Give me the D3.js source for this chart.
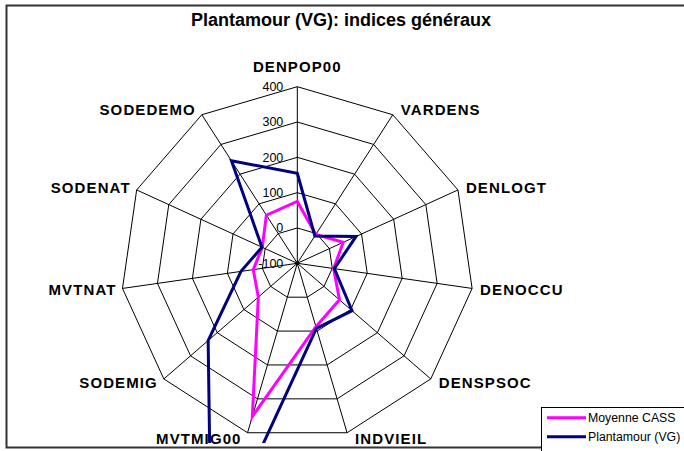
<!DOCTYPE html>
<html>
<head>
<meta charset="utf-8">
<script src="https://cdn.jsdelivr.net/npm/d3@7"></script>
<style>
  html, body { margin: 0; padding: 0; background: #fff; }
  svg { display: block; font-family: "Liberation Sans", Arial, sans-serif; }
</style>
</head>
<body>
<svg id="chart" width="684" height="451"></svg>
<script>
// Axes of the radar, clockwise from the top
const categories = ["DENPOP00", "VARDENS", "DENLOGT", "DENOCCU", "DENSPSOC", "INDVIEIL",
                    "MVTMIG00", "SODEMIG", "MVTNAT", "SODENAT", "SODEDEMO"];
const moyenneCass = [75, -3, 43, 4, 58, 87, 352, 46, 26, 9, 62];
const plantamour  = [155, -8, 83, 6, 105, 92, 765, 234, 61, 10, 245];
const tickValues  = [-100, 0, 100, 200, 300, 400];
const seriesNames = ["Moyenne CASS", "Plantamour (VG)"];
const seriesColors = ["#FF00FF", "#000080"];

const W = 684, H = 451;
const cx = 297.3, cy = 263.3;
const svg = d3.select("#chart");

const r = d3.scaleLinear().domain([-100, 400]).range([0, 176.6]);
const n = categories.length;
const angle = i => i * 2 * Math.PI / n;

// outer frame
svg.append("rect").attr("x", 6.5).attr("y", 5.5).attr("width", W + 10).attr("height", 442)
  .attr("fill", "none").attr("stroke", "#333").attr("stroke-width", 2);

// title
svg.append("text").attr("x", 341).attr("y", 26).attr("text-anchor", "middle")
  .attr("font-size", 18).attr("font-weight", "bold").text("Plantamour (VG): indices généraux");

const g = svg.append("g").attr("transform", `translate(${cx},${cy})`);

// grid rings
const ring = d3.lineRadial().angle((d, i) => angle(i)).radius(d => r(d)).curve(d3.curveLinearClosed);
tickValues.filter(v => v > -100).forEach(v => {
  g.append("path").attr("d", ring(categories.map(() => v)))
    .attr("fill", "none").attr("stroke", "#000").attr("stroke-width", 1);
});

// spokes
categories.forEach((c, i) => {
  const a = angle(i), R = r(400);
  g.append("line").attr("x1", 0).attr("y1", 0)
    .attr("x2", R * Math.sin(a)).attr("y2", -R * Math.cos(a))
    .attr("stroke", "#000").attr("stroke-width", 1);
});
g.append("circle").attr("r", 2).attr("fill", "#000");

// tick labels along the top spoke
tickValues.forEach(v => {
  g.append("text").attr("x", -14).attr("y", -r(v)).attr("dy", "0.35em")
    .attr("text-anchor", "end").attr("font-size", 12.5).text(v);
});

// category labels
categories.forEach((c, i) => {
  const a = angle(i), R = r(400);
  const vx = R * Math.sin(a), vy = -R * Math.cos(a);
  const s = Math.sin(a);
  let x, y, anchor;
  if (i === 0) { x = vx; y = vy - 20; anchor = "middle"; }
  else {
    anchor = s > 0 ? "start" : "end";
    x = vx + (s > 0 ? 8 : -6);
    y = vy - 6 * Math.cos(a);
  }
  g.append("text").attr("x", x).attr("y", y).attr("dy", "0.36em")
    .attr("text-anchor", anchor).attr("font-size", 15).attr("font-weight", "bold")
    .attr("letter-spacing", 1.1).text(c);
});

// series, clipped to the plot area
svg.append("clipPath").attr("id", "plotClip")
  .append("rect").attr("x", 0).attr("y", 0).attr("width", W).attr("height", 443);
const sg = svg.append("g").attr("clip-path", "url(#plotClip)")
  .append("g").attr("transform", `translate(${cx},${cy})`);
[moyenneCass, plantamour].forEach((vals, si) => {
  sg.append("path").attr("d", ring(vals))
    .attr("fill", "none").attr("stroke", seriesColors[si]).attr("stroke-width", 3)
    .attr("stroke-linejoin", "miter");
});

// legend
const lg = svg.append("g");
lg.append("rect").attr("x", 541.5).attr("y", 407.5).attr("width", 200).attr("height", 60)
  .attr("fill", "#fff").attr("stroke", "#000").attr("stroke-width", 1);
seriesNames.forEach((name, i) => {
  const y = 417.7 + i * 19;
  lg.append("line").attr("x1", 547).attr("x2", 586).attr("y1", y).attr("y2", y)
    .attr("stroke", seriesColors[i]).attr("stroke-width", 3);
  lg.append("text").attr("x", 588).attr("y", y).attr("dy", "0.35em")
    .attr("font-size", 12.3).text(name);
});
</script>
</body>
</html>
